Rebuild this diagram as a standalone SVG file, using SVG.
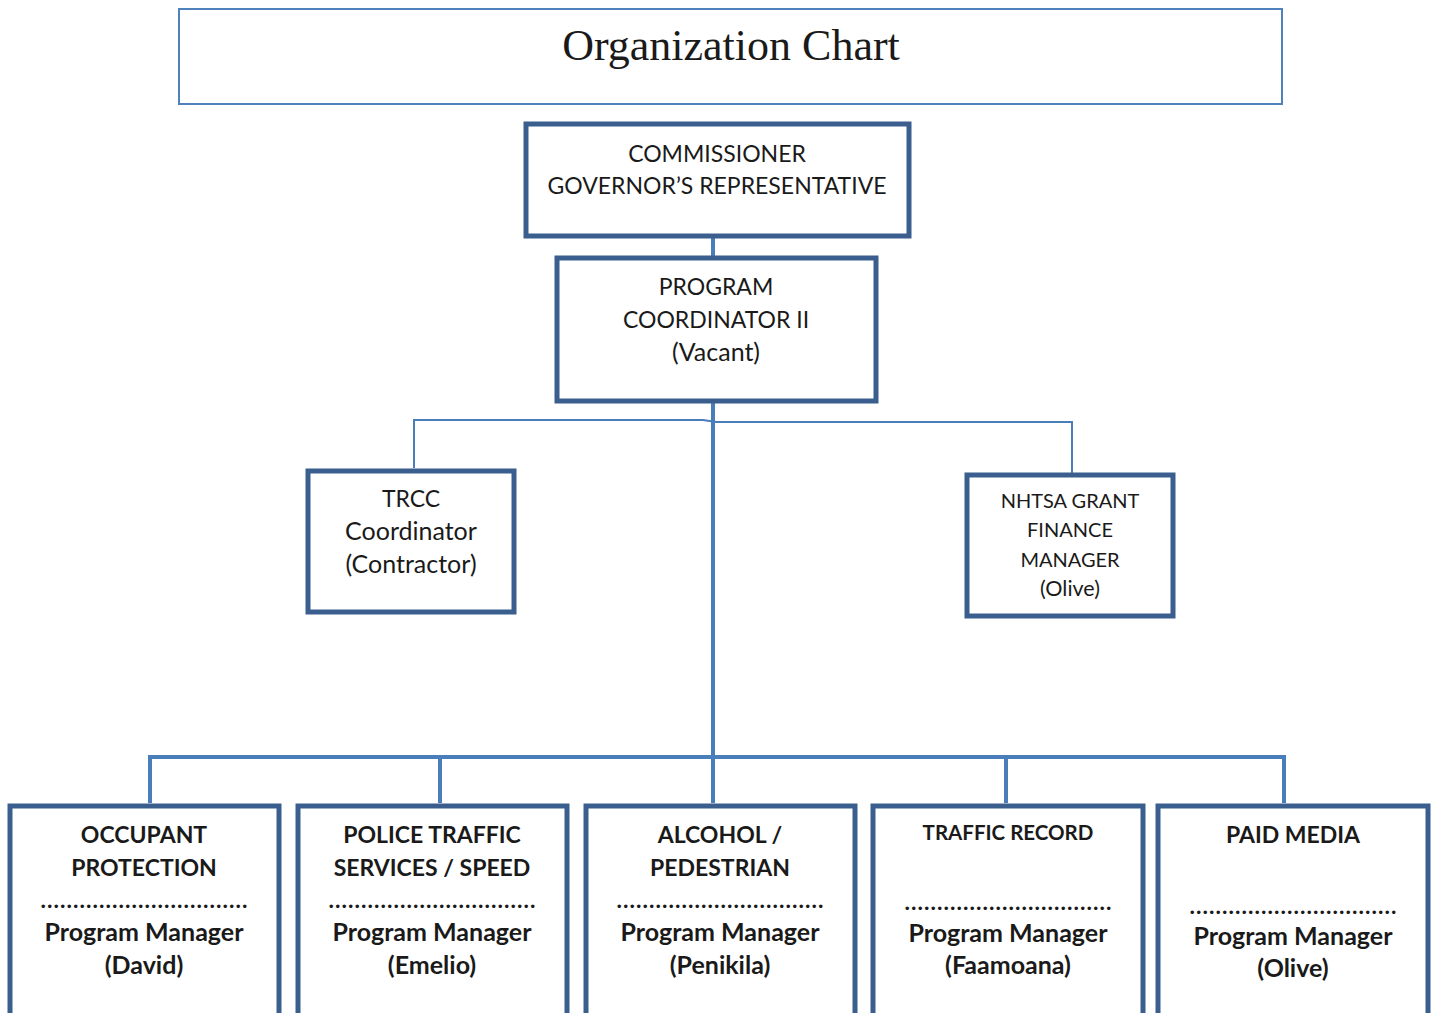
<svg xmlns="http://www.w3.org/2000/svg" width="1435" height="1013" viewBox="0 0 1435 1013">
<style>
.box{fill:#fff;stroke:#3a5f8e;stroke-width:5}
.title{fill:#fff;stroke:#4f81bd;stroke-width:2}
.t{font-family:Lato,"Open Sans",sans-serif;font-size:23px;fill:#1a1a1a;text-anchor:middle}
.tl{font-size:25px}
.ts{font-size:20px}
.b{font-family:Lato,"Open Sans",sans-serif;font-size:23px;font-weight:bold;fill:#1a1a1a;text-anchor:middle}
.bl{font-size:25px}
.bs{font-size:20.5px}
.thick{stroke:#4a7ebb;stroke-width:4;fill:none}
.thin{stroke:#4a7ebb;stroke-width:2;fill:none}
</style>
<rect width="1435" height="1013" fill="#fff"/>
<g id="connectors">
<line class="thick" x1="713" y1="238" x2="713" y2="257"/>
<line class="thick" x1="713" y1="403" x2="713" y2="757"/>
<polyline class="thin" points="414,468 414,420 703,420"/>
<polyline class="thin" points="703,420 716,422 1072,422 1072,486"/>
<polyline class="thick" points="150,803 150,757 1284,757 1284,803"/>
<line class="thick" x1="440" y1="757" x2="440" y2="803"/>
<line class="thick" x1="713" y1="757" x2="713" y2="803"/>
<line class="thick" x1="1006" y1="757" x2="1006" y2="803"/>
</g>
<g id="title">
<rect class="title" x="179" y="9" width="1103" height="95"/>
<text x="731" y="60" font-family="'Liberation Serif',serif" font-size="44" fill="#1a1a1a" text-anchor="middle">Organization Chart</text>
</g>
<g id="commissioner">
<rect class="box" x="526" y="124" width="383" height="112"/>
<text class="t" x="717" y="162">COMMISSIONER</text>
<text class="t" x="717" y="194">GOVERNOR’S REPRESENTATIVE</text>
</g>
<g id="coordinator">
<rect class="box" x="557" y="258" width="319" height="143"/>
<text class="t" x="716" y="295">PROGRAM</text>
<text class="t" x="716" y="328">COORDINATOR II</text>
<text class="t tl" x="716" y="361">(Vacant)</text>
</g>
<g id="trcc">
<rect class="box" x="308" y="471" width="206" height="141"/>
<text class="t" x="411" y="507">TRCC</text>
<text class="t tl" x="411" y="540">Coordinator</text>
<text class="t tl" x="411" y="573">(Contractor)</text>
</g>
<g id="nhtsa">
<rect class="box" x="967" y="475" width="206" height="141"/>
<text class="t ts" x="1070" y="508">NHTSA GRANT</text>
<text class="t ts" x="1070" y="537">FINANCE</text>
<text class="t ts" x="1070" y="567">MANAGER</text>
<text class="t" x="1070" y="596" style="font-size:21.5px">(Olive)</text>
</g>
<g id="occupant">
<rect class="box" x="10" y="806" width="269" height="212"/>
<text class="b" x="144" y="843">OCCUPANT</text>
<text class="b" x="144" y="876">PROTECTION</text>
<text class="b" x="144" y="908" textLength="207" lengthAdjust="spacing">................................</text>
<text class="b bl" x="144" y="941">Program Manager</text>
<text class="b bl" x="144" y="974">(David)</text>
</g>
<g id="police">
<rect class="box" x="298" y="806" width="269" height="212"/>
<text class="b" x="432" y="843">POLICE TRAFFIC</text>
<text class="b" x="432" y="876">SERVICES / SPEED</text>
<text class="b" x="432" y="908" textLength="207" lengthAdjust="spacing">................................</text>
<text class="b bl" x="432" y="941">Program Manager</text>
<text class="b bl" x="432" y="974">(Emelio)</text>
</g>
<g id="alcohol">
<rect class="box" x="586" y="806" width="269" height="212"/>
<text class="b" x="720" y="843">ALCOHOL /</text>
<text class="b" x="720" y="876">PEDESTRIAN</text>
<text class="b" x="720" y="908" textLength="207" lengthAdjust="spacing">................................</text>
<text class="b bl" x="720" y="941">Program Manager</text>
<text class="b bl" x="720" y="974">(Penikila)</text>
</g>
<g id="traffic-record">
<rect class="box" x="873" y="806" width="270" height="212"/>
<text class="b bs" x="1008" y="840">TRAFFIC RECORD</text>
<text class="b" x="1008" y="910" textLength="207" lengthAdjust="spacing">................................</text>
<text class="b bl" x="1008" y="942">Program Manager</text>
<text class="b bl" x="1008" y="974">(Faamoana)</text>
</g>
<g id="paid-media">
<rect class="box" x="1158" y="806" width="270" height="212"/>
<text class="b" x="1293" y="843">PAID MEDIA</text>
<text class="b" x="1293" y="914" textLength="207" lengthAdjust="spacing">................................</text>
<text class="b bl" x="1293" y="945">Program Manager</text>
<text class="b bl" x="1293" y="977">(Olive)</text>
</g>
</svg>
